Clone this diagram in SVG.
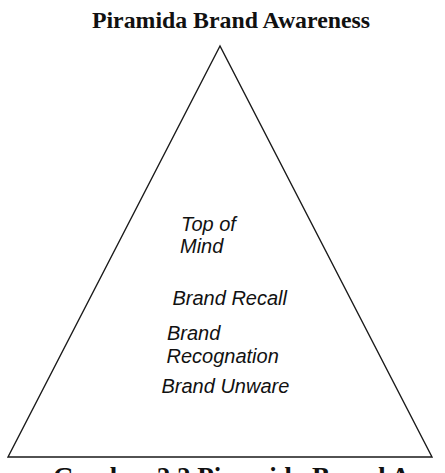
<svg xmlns="http://www.w3.org/2000/svg" width="445" height="473" viewBox="0 0 445 473">
<style>
  .title { font-family: "Liberation Serif", "Times New Roman", serif; font-weight: bold; fill: #111; }
  .lbl { font-family: "Liberation Sans", Arial, sans-serif; font-style: italic; font-size: 20px; fill: #111; }
  .tri { fill: #fff; stroke: #1a1a1a; stroke-width: 1.4; stroke-linejoin: miter; }
</style>
<rect width="445" height="473" fill="#fff"/>
<g id="title">
  <text class="title" x="231" y="27.7" font-size="23.8" text-anchor="middle">Piramida Brand Awareness</text>
</g>
<g id="pyramid">
  <polygon class="tri" points="220,46 8,457 432,457"/>
</g>
<g id="top-of-mind">
  <text class="lbl" x="181" y="231">Top of</text>
  <text class="lbl" x="180" y="253">Mind</text>
</g>
<g id="brand-recall">
  <text class="lbl" x="172.5" y="305">Brand Recall</text>
</g>
<g id="brand-recognation">
  <text class="lbl" x="167" y="340">Brand</text>
  <text class="lbl" x="166.5" y="362.7">Recognation</text>
</g>
<g id="brand-unware">
  <text class="lbl" x="161.5" y="393.3">Brand Unware</text>
</g>
<g id="caption">
  <text class="title" x="53" y="486" font-size="27">Gambar 2.2 Piramida Brand Awareness</text>
</g>
</svg>
